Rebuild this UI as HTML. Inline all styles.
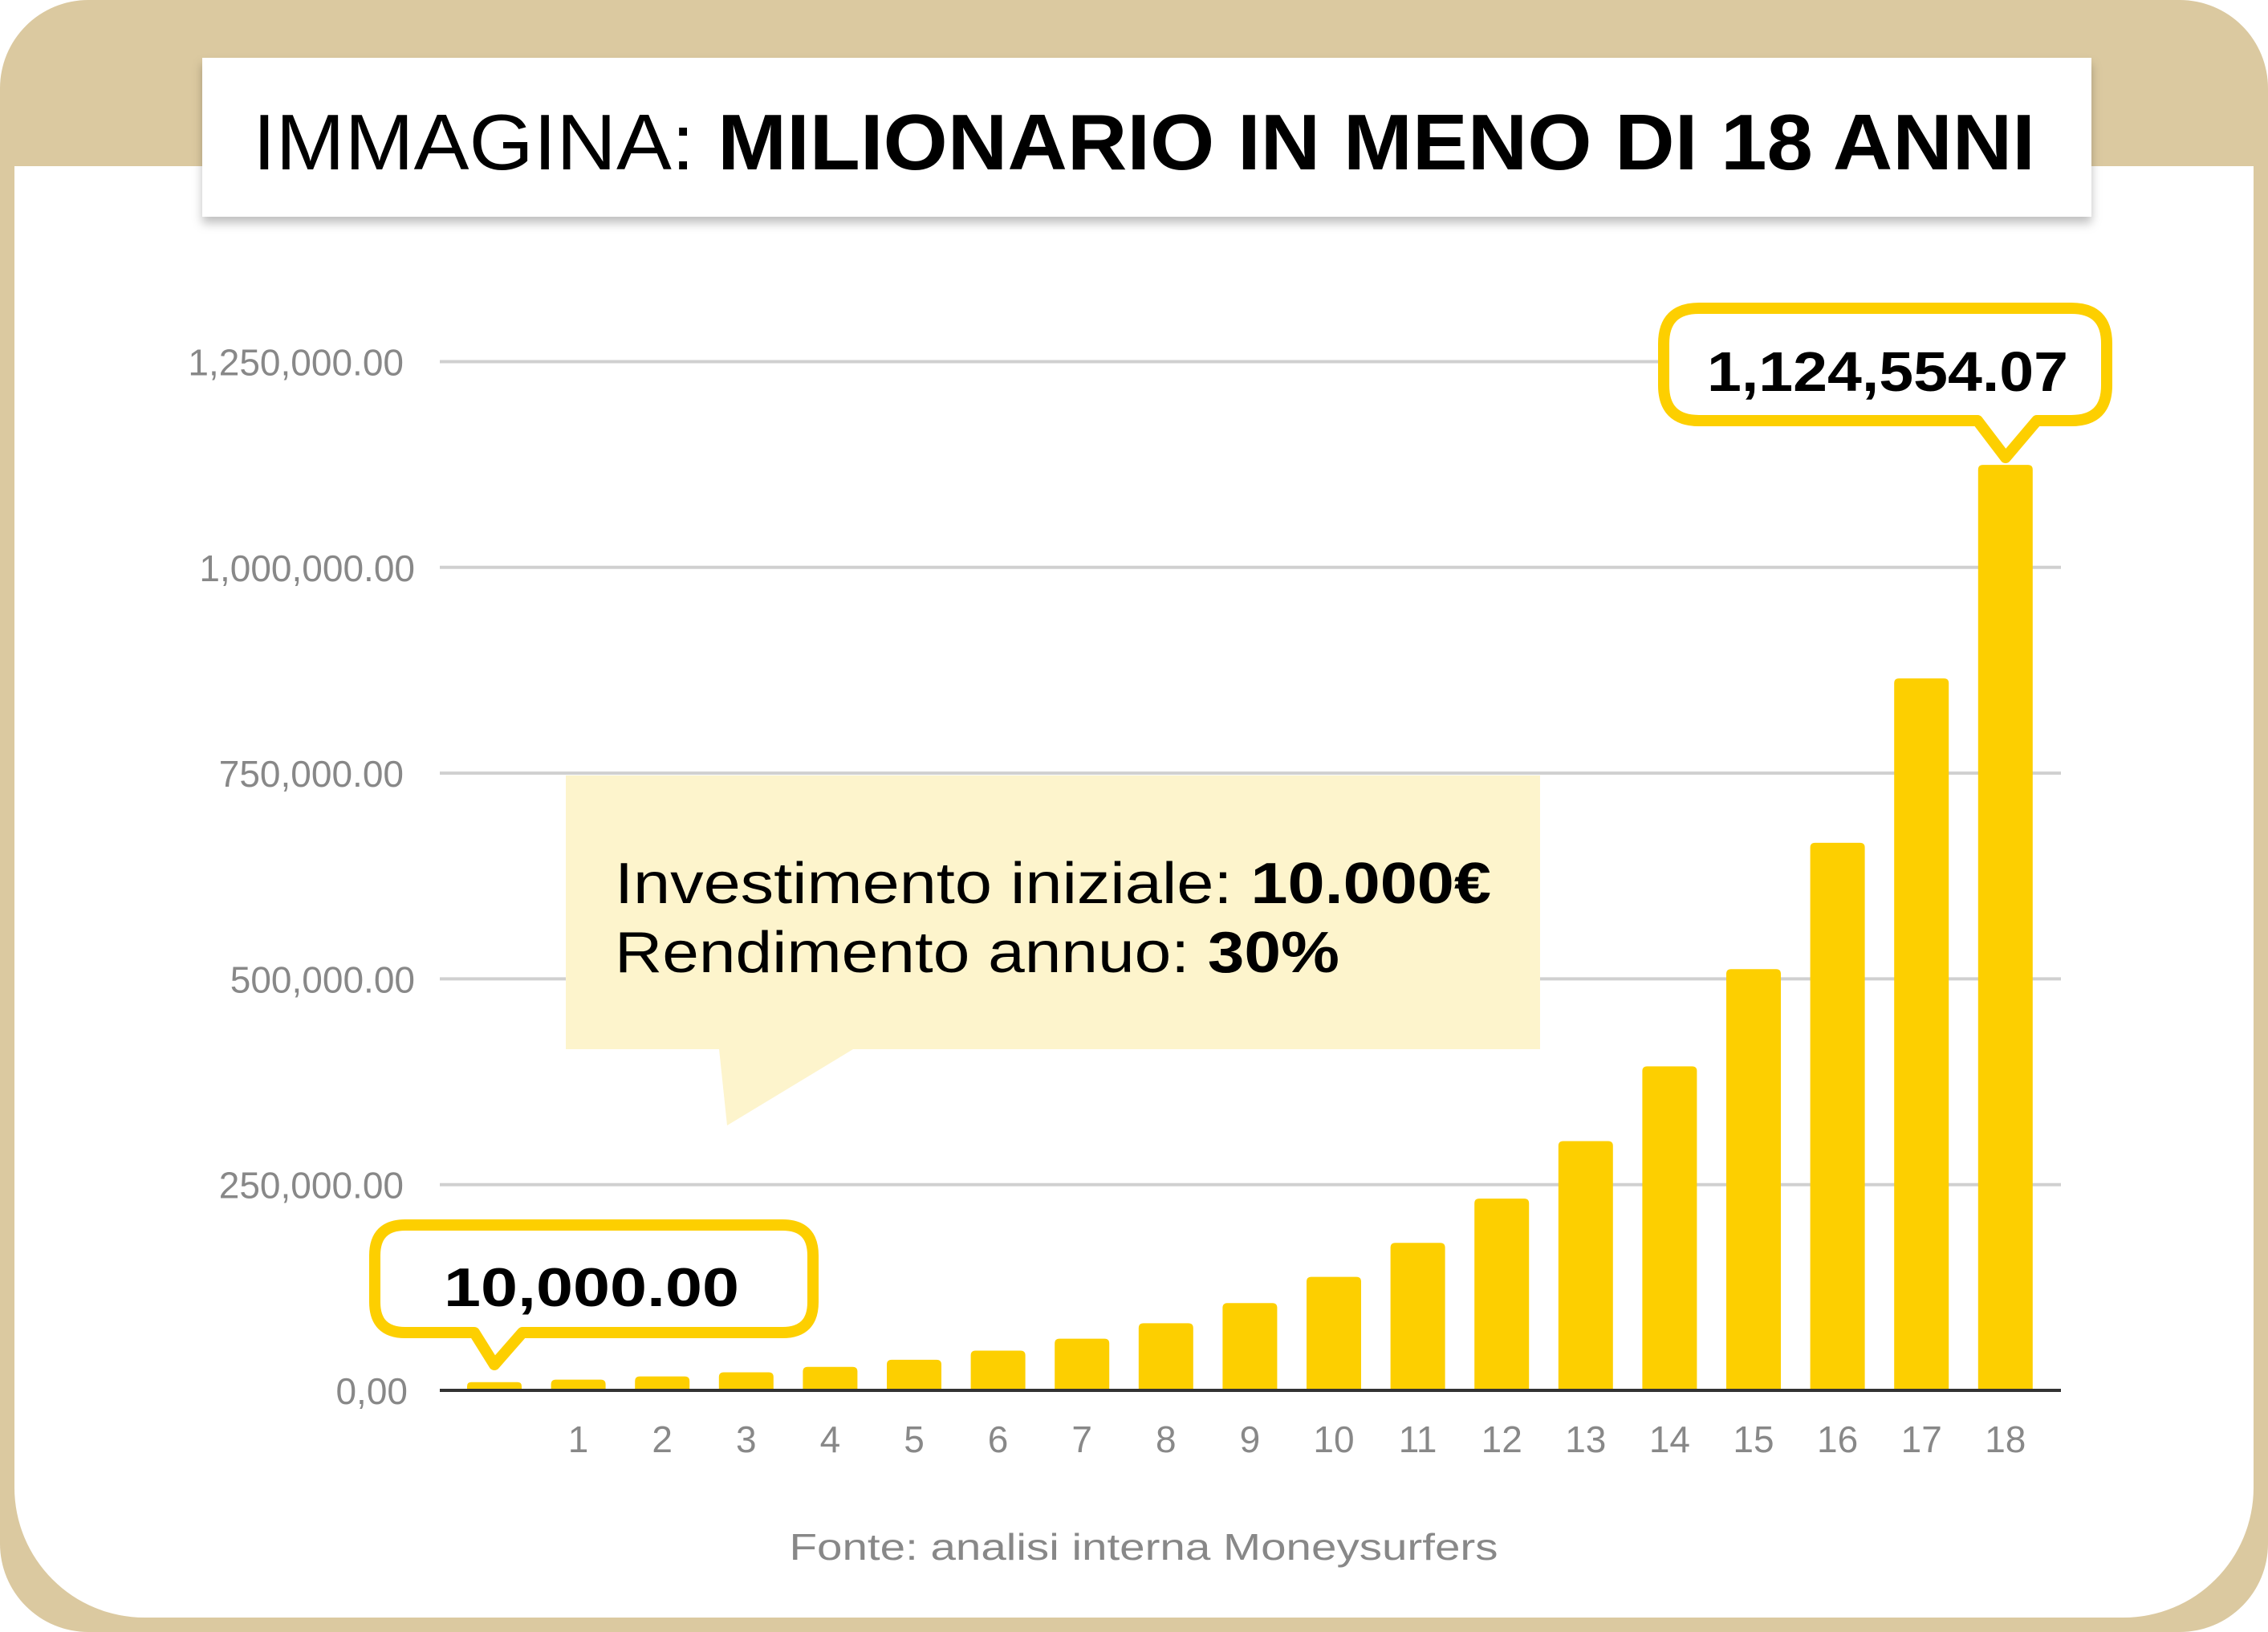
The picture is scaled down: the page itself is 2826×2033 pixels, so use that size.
<!DOCTYPE html>
<html><head><meta charset="utf-8"><style>
html,body{margin:0;padding:0;background:#fff}
svg{display:block}
text{font-family:"Liberation Sans",sans-serif}
</style></head><body>
<svg width="2826" height="2033" viewBox="0 0 2826 2033">
<defs>
<filter id="sh" x="-5%" y="-20%" width="110%" height="150%"><feDropShadow dx="0" dy="8" stdDeviation="6" flood-color="#000" flood-opacity="0.25"/></filter>
</defs>
<rect x="0" y="0" width="2826" height="2033" rx="110" fill="#DBC9A0"/>
<path d="M18 207 H2808 V1853 A162 162 0 0 1 2646 2015 H180 A162 162 0 0 1 18 1853 Z" fill="#fff"/>
<rect x="252" y="72" width="2354" height="198" fill="#fff" filter="url(#sh)"/>
<text x="315" y="211" font-size="98" fill="#000" textLength="2221" lengthAdjust="spacingAndGlyphs"><tspan font-weight="300">IMMAGINA: </tspan><tspan font-weight="bold">MILIONARIO IN MENO DI 18 ANNI</tspan></text>
<g id="grid"></g>
<g id="ylabels"></g>
<g id="bars"></g>
<line x1="548" y1="1732" x2="2568" y2="1732" stroke="#333" stroke-width="4"/>
<g id="xlabels"></g>
<path d="M705 966 H1919 V1307 H1063 L906 1402 L896 1307 H705 Z" fill="#FDF4CC"/>
<text x="766" y="1125" font-size="72" fill="#000" textLength="1092" lengthAdjust="spacingAndGlyphs">Investimento iniziale: <tspan font-weight="bold">10.000€</tspan></text>
<text x="766" y="1211" font-size="72" fill="#000" textLength="903" lengthAdjust="spacingAndGlyphs">Rendimento annuo: <tspan font-weight="bold">30%</tspan></text>
<path d="M505 1526 H975 Q1013 1526 1013 1564 V1622 Q1013 1660 975 1660 H651 L616 1700 L591 1660 H505 Q467 1660 467 1622 V1564 Q467 1526 505 1526 Z" fill="#fff" stroke="#FDCF00" stroke-width="14" stroke-linejoin="round"/>
<text x="553" y="1627" font-size="68" font-weight="bold" fill="#000" textLength="368" lengthAdjust="spacingAndGlyphs">10,000.00</text>
<path d="M2117 384 H2581 Q2625 384 2625 428 V480 Q2625 524 2581 524 H2538 L2499 570 L2464 524 H2117 Q2073 524 2073 480 V428 Q2073 384 2117 384 Z" fill="#fff" stroke="#FDCF00" stroke-width="14" stroke-linejoin="round"/>
<text x="2127" y="487" font-size="70" font-weight="bold" fill="#000" textLength="450" lengthAdjust="spacingAndGlyphs">1,124,554.07</text>
<text x="1425" y="1943" font-size="46" fill="#888" text-anchor="middle" textLength="883" lengthAdjust="spacingAndGlyphs">Fonte: analisi interna Moneysurfers</text>
</svg>
<script>
const categories = ["", "1","2","3","4","5","6","7","8","9","10","11","12","13","14","15","16","17","18"];
const values = [10000,13000,16900,21970,28561,37129,48268,62749,81573,106045,137858,179216,232981,302875,393738,511859,665417,865042,1124554];
const yTicks = [0,250000,500000,750000,1000000,1250000];
const yTickLabels = ["0,00","250,000.00","500,000.00","750,000.00","1,000,000.00","1,250,000.00"];
const NS="http://www.w3.org/2000/svg";
const y0=1732, yPerUnit=256.3/250000;
function yScale(v){return y0 - v*yPerUnit;}
function xScale(i){return 616 + i*104.6;}
const grid=document.getElementById('grid'), yl=document.getElementById('ylabels'), bars=document.getElementById('bars'), xl=document.getElementById('xlabels');
yTicks.forEach((t,i)=>{
  const y=yScale(t);
  if(t>0){
    const l=document.createElementNS(NS,'line');
    l.setAttribute('x1',548);l.setAttribute('x2',2568);l.setAttribute('y1',y);l.setAttribute('y2',y);
    l.setAttribute('stroke','#d0d0d0');l.setAttribute('stroke-width',4);
    
    
    grid.appendChild(l);
  }
  const tx=document.createElementNS(NS,'text');
  tx.setAttribute('x', t===0?508:(i%2===1?503:517));
  tx.setAttribute('y', y+17);
  tx.setAttribute('text-anchor','end');
  tx.setAttribute('font-size',46);
  tx.setAttribute('fill','#888');
  tx.textContent=yTickLabels[i];
  
  
  yl.appendChild(tx);
});
values.forEach((v,i)=>{
  const x=xScale(i), top=yScale(v), w=68;
  const r=Math.min(6,(y0-top)/2);
  const p=document.createElementNS(NS,'path');
  p.setAttribute('d',`M${x-w/2} ${y0} V${top+r} Q${x-w/2} ${top} ${x-w/2+r} ${top} H${x+w/2-r} Q${x+w/2} ${top} ${x+w/2} ${top+r} V${y0} Z`);
  p.setAttribute('fill','#FDCF00');
  
  
  bars.appendChild(p);
  if(categories[i]){
    const t=document.createElementNS(NS,'text');
    t.setAttribute('x',x);t.setAttribute('y',1809);
    t.setAttribute('text-anchor','middle');t.setAttribute('font-size',46);t.setAttribute('fill','#888');
    t.textContent=categories[i];
    
    
    xl.appendChild(t);
  }
});
</script>
</body></html>
